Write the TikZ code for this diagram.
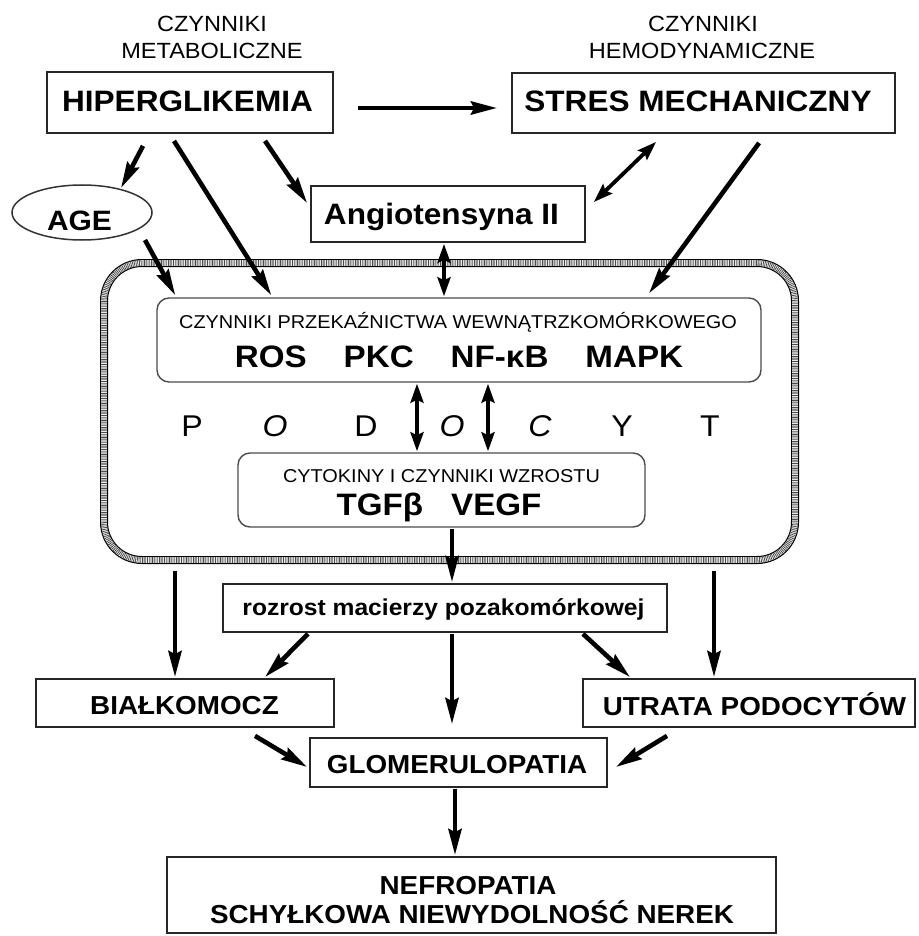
\documentclass[tikz,border=0pt]{standalone}
\usepackage{fontspec}
\setmainfont{Liberation Sans}[FakeStretch=1.07]
\usetikzlibrary{arrows.meta,calc,shapes.geometric}
\newcommand{\fHead}{\fontsize{22}{24}\selectfont}
\newcommand{\fBig}{\fontsize{29.5}{32}\selectfont\bfseries}
\newcommand{\fMid}{\fontsize{26}{28}\selectfont\bfseries}
\newcommand{\fSmall}{\fontsize{18.6}{20}\selectfont}
\newcommand{\fKey}{\fontsize{31}{33}\selectfont\bfseries}
\newcommand{\fLet}{\fontsize{30}{31}\selectfont}
\begin{document}
\begin{tikzpicture}[x=1pt,y=-1pt,
  box/.style={draw=black!85, line width=1.8pt, inner sep=0pt},
  rbox/.style={draw=black!70, line width=1.4pt, rounded corners=12pt, inner sep=0pt},
  lab/.style={inner sep=0pt, anchor=base},
  arr/.style={line width=4.6pt, -{Stealth[length=26pt,width=13pt,inset=3pt]}},
  darr/.style={line width=3.8pt, {Stealth[length=19pt,width=13pt,inset=3pt]}-{Stealth[length=19pt,width=13pt,inset=3pt]}},
  cellbox/.style={draw=black, line width=8pt, rounded corners=38pt, inner sep=0pt,
    postaction={draw=white, line width=5.6pt},
    postaction={draw=black!70, line width=5.6pt, dash pattern=on 0.8pt off 0.9pt}},
]
\useasboundingbox (0,0) rectangle (918,936);

% header labels
\node[lab] (hm1) at (212,32) {\fHead CZYNNIKI};
\node[lab] (hm2) at (212,59) {\fHead METABOLICZNE};
\node[lab] (hh1) at (703,32) {\fHead CZYNNIKI};
\node[lab] (hh2) at (702,59) {\fHead HEMODYNAMICZNE};

% top boxes
\node[box, minimum width=286pt, minimum height=61pt] (hiper) at (190,102.5) {};
\node[lab] (thiper) at (187.5,112) {\fBig HIPERGLIKEMIA};
\node[box, minimum width=383pt, minimum height=60pt] (stres) at (703.5,103) {};
\node[lab] (tstres) at (698,112) {\fBig STRES MECHANICZNY};
\node[draw=black!80, line width=1.5pt, ellipse, minimum width=140pt, minimum height=55pt, inner sep=0pt] (age) at (82,212.5) {};
\node[lab] (tage) at (79.5,230) {\fontsize{28}{30}\selectfont\bfseries AGE};
\node[box, minimum width=274pt, minimum height=56pt] (angio) at (448,214) {};
\node[lab] (tangio) at (441.5,224) {\fBig Angiotensyna II};

% cell
\node[cellbox, minimum width=691pt, minimum height=297pt] (cell) at (449.5,411.5) {};

% signalling box
\node[rbox, minimum width=604pt, minimum height=84pt] (sig) at (459,340) {};
\node[lab] (tsig1) at (458,328) {\fSmall CZYNNIKI PRZEKAŹNICTWA WEWNĄTRZKOMÓRKOWEGO};
\node[lab] (tsig2) at (459,367) {\fKey ROS\hspace{37pt}PKC\hspace{37pt}NF-κB\hspace{37pt}MAPK};

% PODOCYT letters
\begin{scope}[every node/.style={lab}]
\node (p1) at (192,436) {\fLet P};
\node (p2) at (275,436) {\fLet\itshape O};
\node (p3) at (366,436) {\fLet D};
\node (p4) at (452,436) {\fLet\itshape O};
\node (p5) at (540,436) {\fLet\itshape C};
\node (p6) at (622,436) {\fLet Y};
\node (p7) at (710,436) {\fLet T};
\end{scope}

% cytokine box
\node[rbox, minimum width=407pt, minimum height=74pt] (cyto) at (441.5,490) {};
\node[lab] (tcyto1) at (441.5,482) {\fSmall CYTOKINY I CZYNNIKI WZROSTU};
\node[lab] (tcyto2) at (439,515) {\fKey TGFβ\hspace{28pt}VEGF};

% lower boxes
\node[box, minimum width=444pt, minimum height=48pt] (rozrost) at (445,608) {};
\node[lab] (trozrost) at (443.5,615) {\fontsize{23}{25}\selectfont\bfseries rozrost macierzy pozakomórkowej};
\node[box, minimum width=298pt, minimum height=48pt] (bial) at (185,703) {};
\node[lab] (tbial) at (184.5,714) {\fMid BIAŁKOMOCZ};
\node[box, minimum width=332pt, minimum height=48pt] (utrata) at (749,703) {};
\node[lab] (tutrata) at (754.5,715) {\fMid UTRATA PODOCYTÓW};
\node[box, minimum width=297pt, minimum height=49pt] (glomer) at (458.5,762.5) {};
\node[lab] (tglomer) at (457,773) {\fMid GLOMERULOPATIA};
\node[box, minimum width=609pt, minimum height=76pt] (nefro) at (471.5,895) {};
\node[lab] (tnefro1) at (468,894) {\fMid NEFROPATIA};
\node[lab] (tnefro2) at (472,923) {\fMid SCHYŁKOWA NIEWYDOLNOŚĆ NEREK};

% connectors
\draw[arr] ($(hiper.east)+(24,5.5)$) -- ($(stres.west)+(-14,5)$);
\draw[arr] ($(hiper.south)+(-47,12)$) -- ($(age.center)+(39,-24.5)$);
\draw[arr] ($(hiper.south)+(-16,7)$) -- ($(sig.north west)+(115,-2)$);
\draw[arr] ($(hiper.south)+(75,7)$) -- ($(angio.west)+(-3,-11)$);
\draw[arr] ($(age.center)+(63,27.5)$) -- ($(sig.north west)+(19,-2)$);
\draw[darr] ($(angio.south)+(-4,1)$) -- ($(sig.north)+(-15,-1)$);
\draw[darr] ($(stres.south west)+(145,8)$) -- ($(angio.east)+(8,-12)$);
\draw[arr] ($(stres.south west)+(248,9)$) -- ($(sig.north)+(190,-4)$);
\draw[darr] ($(sig.south)+(-42,1)$) -- ($(cyto.north)+(-24.5,-1)$);
\draw[darr] ($(sig.south)+(29,1)$) -- ($(cyto.north)+(46.5,-1)$);
\draw[arr] ($(cyto.south)+(10.5,1)$) -- ($(rozrost.north)+(7,-1)$);
\draw[arr] ($(cell.south)+(-274.5,7)$) -- ($(bial.north)+(-10,-1)$);
\draw[arr] ($(cell.south)+(264.5,7)$) -- ($(utrata.north)+(-35,-1)$);
\draw[arr] ($(rozrost.south)+(-137,1)$) -- ($(bial.north)+(80,-1)$);
\draw[arr] ($(rozrost.south)+(138,1)$) -- ($(utrata.north)+(-119,-1)$);
\draw[arr] ($(rozrost.south)+(7,1)$) -- ($(glomer.north)+(-6.5,-13)$);
\draw[arr] ($(bial.south)+(70,8)$) -- ($(glomer.west)+(-2,4.5)$);
\draw[arr] ($(utrata.south)+(-82,8)$) -- ($(glomer.east)+(8,4.5)$);
\draw[arr] ($(glomer.south)+(-3.5,1)$) -- ($(nefro.north)+(-16.5,-1)$);
\end{tikzpicture}
\end{document}
